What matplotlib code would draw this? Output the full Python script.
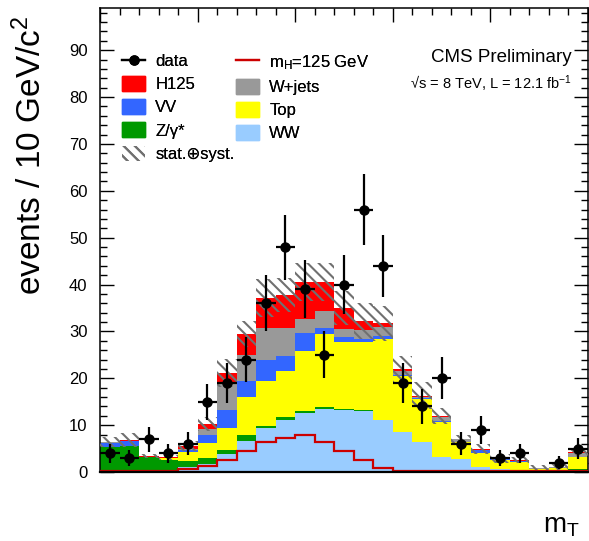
import numpy as np
import matplotlib
matplotlib.use("Agg")
import matplotlib.pyplot as plt
from matplotlib.lines import Line2D
from matplotlib.patches import Patch
from matplotlib.ticker import MultipleLocator, NullFormatter

# ---------- DATA (mT bins of 10 GeV, 0-250) ----------
bin_edges = list(range(0, 260, 10))

ww     = [0.0, 0.0, 0.0, 0.0, 1.1, 1.8, 3.9, 6.7, 9.4, 11.2, 12.5, 13.5, 13.2,
          13.0, 11.0, 8.6, 6.5, 3.2, 2.7, 1.1, 0.6, 0.4, 0.1, 0.4, 0.5]
zgamma = [5.4, 5.5, 3.2, 2.5, 1.2, 1.2, 0.9, 1.3, 0.5, 0.5, 0.5, 0.3, 0.3,
          0.2, 0.1, 0.0, 0.0, 0.0, 0.0, 0.0, 0.0, 0.0, 0.0, 0.0, 0.1]
top    = [0.0, 0.0, 0.0, 0.4, 2.0, 3.2, 4.6, 7.9, 9.6, 9.9, 12.8, 15.6, 14.3,
          14.5, 17.3, 11.9, 9.0, 7.5, 3.6, 3.0, 1.9, 1.7, 0.6, 0.5, 2.6]
vv     = [0.8, 1.1, 0.0, 0.0, 0.3, 1.6, 3.8, 3.5, 4.5, 3.1, 3.8, 1.4, 1.1,
          0.6, 0.6, 0.3, 0.3, 0.1, 0.1, 0.5, 0.2, 0.2, 0.0, 0.0, 0.1]
wjets  = [0.1, 0.1, 0.1, 0.1, 0.4, 1.3, 6.0, 5.6, 6.8, 6.0, 3.1, 3.5, 1.7,
          2.1, 1.9, 0.7, 0.3, 1.0, 0.6, 0.2, 0.1, 0.1, 0.1, 0.1, 0.8]
h125   = [0.1, 0.1, 0.1, 0.1, 0.5, 1.2, 1.9, 4.5, 6.3, 7.1, 7.8, 6.2, 4.4,
          1.8, 0.8, 0.5, 0.2, 0.1, 0.1, 0.1, 0.1, 0.1, 0.0, 0.0, 0.1]
syst   = [1.1, 1.5, 0.4, 0.5, 1.1, 1.5, 3.0, 2.8, 4.0, 3.6, 4.1, 4.1, 3.6,
          3.9, 3.7, 2.7, 2.8, 1.7, 0.9, 1.0, 0.9, 0.6, 0.8, 1.0, 0.8]
mh_line = [0.2, 0.2, 0.2, 0.2, 0.6, 1.3, 2.5, 4.4, 6.3, 7.3, 8.0, 6.3, 4.4,
           2.5, 0.9, 0.2, 0.2, 0.2, 0.2, 0.2, 0.2, 0.2, 0.2, 0.2, 0.2]
data   = [4, 3, 7, 4, 6, 15, 19, 24, 36, 48, 39, 25, 40,
          56, 44, 19, 14, 20, 6, 9, 3, 4, np.nan, 2, 5]

# ---------- STYLE ----------
plt.rcParams['font.family'] = ['Liberation Sans', 'DejaVu Sans']
plt.rcParams['mathtext.fontset'] = 'custom'
plt.rcParams['mathtext.rm'] = 'Liberation Sans'
plt.rcParams['mathtext.it'] = 'Liberation Sans'
plt.rcParams['mathtext.default'] = 'regular'
plt.rcParams['hatch.linewidth'] = 1.5

HATCH = '\\\\\\'
HATCH_COL = '#707070'

stack = [("WW", ww, "#99ccff"),
         ("Z/\u03b3*", zgamma, "#009900"),
         ("Top", top, "#ffff00"),
         ("VV", vv, "#3366ff"),
         ("W+jets", wjets, "#999999"),
         ("H125", h125, "#ff0000")]

edges = np.array(bin_edges, dtype=float)
centers = (edges[:-1] + edges[1:]) / 2
width = np.diff(edges)

fig = plt.figure(figsize=(5.89, 5.41), dpi=100)
ax = fig.add_axes([100 / 589, 1 - 472 / 541, 488 / 589, 464 / 541])

# stacked backgrounds + signal
bottom = np.zeros(len(centers))
for name, vals, col in stack:
    vals = np.array(vals)
    ax.bar(centers, vals, width=width, bottom=bottom, color=col,
           linewidth=0, zorder=2)
    bottom = bottom + vals
total = bottom

# uncertainty band
err = np.array(syst)
ax.bar(centers, 2 * err, width=width, bottom=total - err, fill=False,
       hatch=HATCH, edgecolor=HATCH_COL, linewidth=0, zorder=3)

# mH = 125 line
ax.stairs(mh_line, edges, color='#cc0000', linewidth=1.6, baseline=None, zorder=4)

# data
d = np.array(data, dtype=float)
ax.errorbar(centers, d, yerr=np.sqrt(d), xerr=width / 2, fmt='o', color='black',
            markersize=6.5, elinewidth=1.6, capsize=0, zorder=5)

# axes
ax.set_xlim(0, 250)
ax.set_ylim(0, 99)
ax.xaxis.set_major_locator(MultipleLocator(50))
ax.xaxis.set_minor_locator(MultipleLocator(10))
ax.yaxis.set_major_locator(MultipleLocator(10))
ax.yaxis.set_minor_locator(MultipleLocator(2))
ax.tick_params(axis='both', which='both', direction='in', top=True, right=True,
               bottom=False, labelbottom=False, width=1.0)
ax.tick_params(which='major', length=10)
ax.tick_params(which='minor', length=5)
ax.tick_params(axis='y', labelsize=12, pad=9)
ax.xaxis.set_minor_formatter(NullFormatter())
for sp in ax.spines.values():
    sp.set_linewidth(1.1)
ax.spines['bottom'].set_linewidth(1.6)
ax.spines['bottom'].set_zorder(6)

fig.text(14 / 589, 1 - 16 / 541, "events / 10 GeV/c$^2$", rotation=90,
         ha='left', va='top', fontsize=24)
fig.text(580 / 589, 1 - 539 / 541, "m$_T$", ha='right', va='bottom', fontsize=20)

fig.text(572 / 589, 1 - 57 / 541, "CMS Preliminary", ha='right', va='center',
         fontsize=13.5)
fig.text(572 / 589, 1 - 84 / 541, "\u221as = 8 TeV, L = 12.1 fb$^{-1}$",
         ha='right', va='center', fontsize=10.5)

# legend (two columns)
h_data = Line2D([], [], color='black', marker='o', markersize=6.5, linewidth=1.6)
h_band = Patch(facecolor='none', edgecolor=HATCH_COL, hatch=HATCH, linewidth=0)
colors = {name: col for name, vals, col in stack}
col1 = [(h_data, "data"),
        (Patch(color=colors["H125"]), "H125"),
        (Patch(color=colors["VV"]), "VV"),
        (Patch(color=colors["Z/\u03b3*"]), "Z/\u03b3*"),
        (h_band, "stat.\u2295syst.")]
col2 = [(Line2D([], [], color='#cc0000', linewidth=1.6), "m$_H$=125 GeV"),
        (Patch(color=colors["W+jets"]), "W+jets"),
        (Patch(color=colors["Top"]), "Top"),
        (Patch(color=colors["WW"]), "WW")]

for x0, items in [(122, col1), (236, col2)]:
    leg = fig.legend([h for h, t in items], [t for h, t in items],
                     loc='upper left', bbox_to_anchor=(x0 / 589, 1 - 53 / 541),
                     frameon=False, fontsize=12, borderpad=0, borderaxespad=0,
                     handlelength=1.4, handleheight=1.0, handletextpad=0.6,
                     labelspacing=0.42)
    fig.add_artist(leg)

fig.savefig("out.png", dpi=100)
